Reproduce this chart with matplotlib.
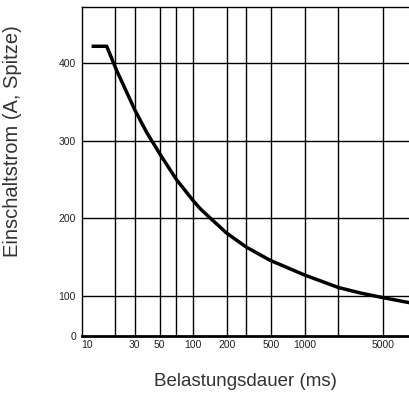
import numpy as np
import matplotlib
matplotlib.use('Agg')
import matplotlib.pyplot as plt

# Daten
dauer_ms = [12.3, 16.8, 20.6, 30, 38.3, 50.4, 71, 100, 115, 141, 174, 200, 300, 490,
            1000, 2000, 3130, 5000, 8800]
strom_a = [422, 422, 391, 340, 311, 283, 250, 223, 213, 201, 189, 181, 163, 146,
           127, 111, 104, 96, 83]

x_gitter = [20, 30, 50, 70, 100, 200, 300, 500, 1000, 2000, 5000]
x_ticks = [10, 30, 50, 100, 200, 500, 1000, 5000]
x_labels = ['10', '30', '50', '100', '200', '500', '1000', '5000']
y_ticks = [0, 100, 200, 300, 400]
y_labels = ['0', '100', '200', '300', '400']

# unterer Bereich 0..100 gestaucht
k = 40 / 77.5

def vorwaerts(y):
    y = np.asarray(y, dtype=float)
    return np.where(y < 100, y * k, 100 * k + (y - 100))

def rueckwaerts(u):
    u = np.asarray(u, dtype=float)
    return np.where(u < 100 * k, u / k, u - 100 * k + 100)

plt.rcParams['font.family'] = ['Liberation Sans', 'DejaVu Sans']

fig = plt.figure(figsize=(4.1, 3.96), dpi=100)
ax = fig.add_axes([0.199, 0.1515, 0.801, 0.8315])

ax.set_xscale('log')
ax.set_yscale('function', functions=(vorwaerts, rueckwaerts))
ax.set_xlim(10, 8800)
ax.set_ylim(0, 473)

for xv in x_gitter:
    ax.axvline(xv, color='black', linewidth=1.0, zorder=1)
for yv in y_ticks[1:]:
    ax.axhline(yv, color='black', linewidth=1.0, zorder=1)

ax.plot(dauer_ms, strom_a, color='black', linewidth=2.5, zorder=3,
        solid_joinstyle='round', solid_capstyle='butt')

ax.set_xticks(x_ticks)
ax.set_xticklabels(x_labels)
ax.xaxis.set_minor_locator(matplotlib.ticker.NullLocator())
ax.set_yticks(y_ticks)
ax.set_yticklabels(y_labels)
ax.tick_params(axis='both', length=0, labelsize=7.5, colors='#222222')
ax.tick_params(axis='x', pad=3)
ax.tick_params(axis='y', pad=4)
ax.get_xticklabels()[0].set_horizontalalignment('left')

ax.spines['right'].set_visible(False)
ax.spines['top'].set_linewidth(1.0)
ax.spines['left'].set_linewidth(1.0)
ax.spines['bottom'].set_linewidth(2.0)

fig.text(245 / 410, 1 - 381 / 396, 'Belastungsdauer (ms)', ha='center', va='center',
         fontsize=13.5, color='#333333')
fig.text(13 / 410, 1 - 141 / 396, 'Einschaltstrom (A, Spitze)', ha='center', va='center',
         rotation=90, fontsize=14.5, color='#333333')

fig.savefig('out.png', dpi=100)
